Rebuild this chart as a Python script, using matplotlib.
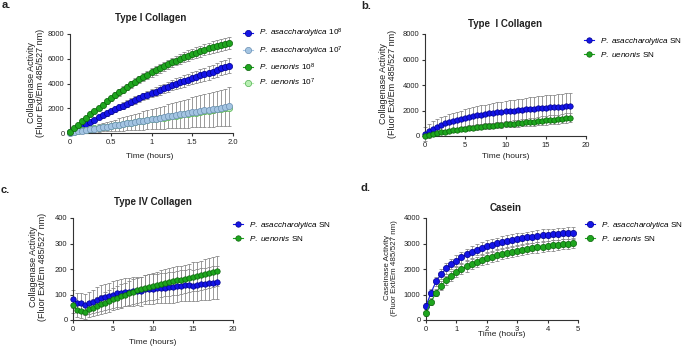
import matplotlib
matplotlib.use("Agg")
import matplotlib.pyplot as plt

# Arial-like font, italics for species names via mathtext
plt.rcParams['font.family'] = 'Liberation Sans'
plt.rcParams['mathtext.fontset'] = 'custom'
plt.rcParams['mathtext.rm'] = 'Liberation Sans'
plt.rcParams['mathtext.it'] = 'Liberation Sans:italic'
plt.rcParams['mathtext.bf'] = 'Liberation Sans:bold'

W, H = 685, 347

# ---- panel a: type I collagen, whole cells (time in hours) ----
time_a = [0, 0.05, 0.1, 0.15, 0.2, 0.25, 0.3, 0.35, 0.4, 0.45,
          0.5, 0.55, 0.6, 0.65, 0.7, 0.75, 0.8, 0.85, 0.9, 0.95,
          1.0, 1.05, 1.1, 1.15, 1.2, 1.25, 1.3, 1.35, 1.4, 1.45,
          1.5, 1.55, 1.6, 1.65, 1.7, 1.75, 1.8, 1.85, 1.9, 1.95]
pa_1e8 = [50, 210, 380, 560, 740, 920, 1090, 1260, 1430, 1590,
          1750, 1910, 2070, 2220, 2370, 2520, 2660, 2810, 2950, 3090,
          3220, 3350, 3480, 3610, 3730, 3860, 3980, 4100, 4210, 4320,
          4430, 4540, 4650, 4750, 4860, 4960, 5120, 5230, 5340, 5440]
pa_1e8_err = [30, 50, 70, 90, 110, 125, 140, 155, 170, 185,
              200, 215, 230, 245, 260, 275, 290, 300, 315, 330,
              345, 360, 375, 390, 400, 415, 430, 445, 460, 470,
              485, 500, 515, 530, 540, 555, 570, 580, 590, 600]
pa_1e7 = [20, 80, 130, 185, 240, 290, 350, 400, 460, 510,
          570, 620, 680, 730, 790, 840, 900, 950, 1010, 1060,
          1120, 1170, 1230, 1280, 1340, 1390, 1450, 1500, 1560, 1610,
          1670, 1720, 1770, 1820, 1870, 1920, 1970, 2020, 2080, 2150]
pa_1e7_err = [15, 60, 95, 135, 175, 215, 255, 295, 335, 375,
              415, 455, 495, 535, 575, 615, 655, 695, 735, 775,
              815, 855, 895, 935, 975, 1015, 1055, 1095, 1135, 1175,
              1215, 1255, 1290, 1325, 1360, 1395, 1430, 1465, 1500, 1550]
pu_1e8 = [100, 380, 680, 960, 1240, 1510, 1780, 2040, 2300, 2560,
          2810, 3050, 3280, 3500, 3720, 3930, 4130, 4330, 4520, 4710,
          4890, 5060, 5230, 5390, 5550, 5700, 5850, 5990, 6120, 6250,
          6380, 6500, 6620, 6730, 6840, 6940, 7040, 7130, 7220, 7300]
pu_1e8_err = [40, 60, 80, 100, 120, 140, 160, 175, 190, 205,
              220, 235, 250, 260, 270, 280, 290, 300, 310, 320,
              330, 340, 350, 360, 370, 380, 390, 400, 410, 420,
              430, 440, 450, 455, 460, 465, 470, 475, 480, 480]
pu_1e7 = [100, 110, 160, 210, 265, 315, 370, 420, 475, 525,
          580, 630, 685, 735, 790, 840, 895, 945, 1000, 1050,
          1100, 1150, 1200, 1250, 1300, 1350, 1400, 1450, 1500, 1550,
          1600, 1650, 1700, 1750, 1800, 1850, 1900, 1950, 2000, 2050]
pu_1e7_err = [20, 25, 30, 35, 40, 45, 50, 55, 60, 65,
              70, 75, 80, 85, 90, 95, 100, 105, 110, 115,
              120, 125, 130, 135, 140, 145, 150, 155, 160, 165,
              170, 175, 180, 185, 190, 195, 200, 205, 210, 215]

# ---- panels b and c: supernatants (time in hours) ----
time_b = [0, 0.5, 1, 1.5, 2, 2.5, 3, 3.5, 4, 4.5, 5, 5.5, 6, 6.5, 7, 7.5,
          8, 8.5, 9, 9.5, 10, 10.5, 11, 11.5, 12, 12.5, 13, 13.5, 14, 14.5,
          15, 15.5, 16, 16.5, 17, 17.5, 18]
col1_pa = [150, 380, 570, 730, 870, 990, 1100, 1190, 1280, 1360, 1440, 1510,
           1570, 1630, 1680, 1730, 1770, 1810, 1850, 1890, 1930, 1960, 1990,
           2020, 2050, 2080, 2110, 2130, 2160, 2190, 2220, 2240, 2260, 2290,
           2310, 2340, 2380]
col1_pa_err = [550, 560, 570, 580, 590, 600, 610, 620, 630, 640, 660, 675,
               690, 705, 720, 735, 750, 765, 780, 800, 820, 840, 860, 875,
               890, 905, 920, 930, 940, 950, 960, 970, 980, 985, 990, 995, 1000]
col1_pu = [20, 100, 170, 230, 290, 350, 400, 450, 500, 530, 560, 600, 640,
           680, 720, 750, 790, 820, 860, 890, 920, 950, 980, 1010, 1040, 1070,
           1100, 1130, 1160, 1190, 1230, 1260, 1290, 1320, 1360, 1400, 1440]
col1_pu_err = [50, 60, 70, 80, 90, 100, 110, 120, 130, 140, 150, 160, 170,
               180, 190, 200, 210, 220, 230, 240, 250, 260, 270, 280, 290, 300,
               310, 320, 330, 340, 350, 355, 360, 365, 370, 375, 380]

time_c = time_b
col4_pa = [82, 68, 66, 60, 66, 72, 80, 86, 90, 94, 100, 104, 106, 108, 110,
           112, 114, 113, 120, 122, 122, 124, 126, 126, 128, 128, 132, 134,
           136, 137, 135, 138, 140, 142, 144, 146, 148]
col4_pa_err = [35, 38, 40, 42, 44, 46, 48, 50, 50, 52, 52, 54, 54, 55, 55,
               56, 56, 57, 57, 58, 58, 58, 59, 59, 60, 60, 60, 61, 61, 62,
               62, 62, 63, 63, 64, 64, 65]
col4_pu = [58, 40, 36, 33, 42, 48, 55, 62, 68, 75, 83, 88, 95, 100, 106,
           110, 116, 120, 124, 128, 132, 136, 142, 146, 148, 152, 155, 158,
           160, 164, 170, 172, 175, 180, 184, 188, 192]
col4_pu_err = [30, 30, 30, 30, 32, 34, 36, 38, 40, 42, 44, 45, 46, 47, 48,
               49, 50, 50, 51, 51, 52, 52, 53, 53, 54, 54, 55, 55, 56, 56,
               57, 57, 57, 58, 58, 58, 58]

# ---- panel d: casein (10 min reads, in hours) ----
time_d = [0, 0.167, 0.333, 0.5, 0.667, 0.833, 1.0, 1.167, 1.333, 1.5,
          1.667, 1.833, 2.0, 2.167, 2.333, 2.5, 2.667, 2.833, 3.0, 3.167,
          3.333, 3.5, 3.667, 3.833, 4.0, 4.167, 4.333, 4.5, 4.667, 4.833]
cas_pa = [550, 1075, 1520, 1800, 2020, 2200, 2330, 2465, 2570, 2675,
          2755, 2835, 2900, 2950, 3005, 3055, 3095, 3135, 3175, 3200,
          3240, 3265, 3290, 3320, 3330, 3355, 3370, 3395, 3410, 3425]
cas_pa_err = [120, 150, 170, 190, 200, 210, 215, 220, 225, 225,
              225, 230, 230, 230, 230, 230, 230, 230, 230, 230,
              230, 230, 230, 230, 230, 230, 230, 230, 230, 230]
cas_pu = [260, 720, 1075, 1350, 1560, 1730, 1875, 1995, 2100, 2190,
          2270, 2350, 2415, 2480, 2530, 2585, 2635, 2675, 2715, 2755,
          2795, 2820, 2845, 2870, 2900, 2925, 2940, 2965, 2990, 3005]
cas_pu_err = [100, 130, 150, 170, 180, 190, 195, 200, 200, 200,
              200, 200, 200, 200, 200, 200, 200, 200, 200, 200,
              200, 200, 200, 200, 200, 200, 200, 200, 200, 200]

BLUE, BLUE_E = '#1414e6', '#00008c'
GREEN, GREEN_E = '#1ea51e', '#0b640b'
LBLUE, LBLUE_E = '#a3c4e2', '#6b8fb2'
LGREEN, LGREEN_E = '#b8efb2', '#52b052'
ERR = '#8a8a8a'
INK = '#222222'

fig = plt.figure(figsize=(W / 100, H / 100), dpi=100)


def fpos(x, y):
    return x / W, 1 - y / H


def panel(left, top, right, bottom, xmax, xstep, ymax, ystep):
    ax = fig.add_axes([left / W, 1 - bottom / H, (right - left) / W, (bottom - top) / H])
    ax.set_xlim(0, xmax)
    ax.set_ylim(0, ymax)
    ax.set_xticks([i * xstep for i in range(int(round(xmax / xstep)) + 1)])
    ax.set_yticks([i * ystep for i in range(int(round(ymax / ystep)) + 1)])
    for s in ('top', 'right'):
        ax.spines[s].set_visible(False)
    for s in ('left', 'bottom'):
        ax.spines[s].set_color('#333333')
        ax.spines[s].set_linewidth(0.8)
    ax.tick_params(direction='out', length=2.5, width=0.8, labelsize=5.5,
                   pad=1.5, color='#333333', labelcolor=INK)
    ax.patch.set_alpha(0)
    return ax


def series(ax, t, y, err, face, edge, label, ms, z=3):
    ax.errorbar(t, y, yerr=err, fmt='none', ecolor=ERR, elinewidth=0.6,
                capsize=1.7, capthick=0.6, zorder=2, clip_on=False)
    ax.plot(t, y, '-o', color=face, mfc=face, mec=edge, mew=0.5, ms=ms,
            lw=0.8, label=label, zorder=z, clip_on=False)


def legend(ax, x, y, spacing, order=None):
    h, l = ax.get_legend_handles_labels()
    if order:
        h = [h[i] for i in order]
        l = [l[i] for i in order]
    ax.legend(h, l, loc='upper left', bbox_to_anchor=fpos(x, y),
              bbox_transform=fig.transFigure, frameon=False, fontsize=5.9,
              borderpad=0, borderaxespad=0, handlelength=1.2,
              handletextpad=0.75, labelspacing=spacing)


def texts(title, tx, ty, xl, xlx, xly, yl, ylx, yly, ysize):
    fig.text(*fpos(tx, ty), title, ha='center', va='center', fontsize=7,
             fontweight='bold', color=INK)
    fig.text(*fpos(xlx, xly), xl, ha='center', va='center', fontsize=6,
             color=INK)
    fig.text(*fpos(ylx, yly), yl, ha='center', va='center', fontsize=ysize,
             rotation=90, linespacing=1.05, color=INK)


ylab = 'Collagenase Activity\n(Fluor Ext/Em 485/527 nm)'
pa_name = r'$\it{P.\ asaccharolytica}$'
pu_name = r'$\it{P.\ uenonis}$'

# a
ax = panel(70, 34, 233, 133, 2.0, 0.5, 8000, 2000)
ax.set_xticklabels(['0', '0.5', '1', '1.5', '2.0'])
series(ax, time_a, pa_1e8, pa_1e8_err, BLUE, BLUE_E, pa_name + r' 10$^{8}$', 4.5, 3)
series(ax, time_a, pu_1e7, pu_1e7_err, LGREEN, LGREEN_E, pu_name + r' 10$^{7}$', 4.5, 3)
series(ax, time_a, pa_1e7, pa_1e7_err, LBLUE, LBLUE_E, pa_name + r' 10$^{7}$', 4.5, 4)
series(ax, time_a, pu_1e8, pu_1e8_err, GREEN, GREEN_E, pu_name + r' 10$^{8}$', 4.5, 5)
legend(ax, 243, 27, 0.48, order=[0, 2, 3, 1])
texts('Type I Collagen', 151, 18, 'Time (hours)', 150, 157, ylab, 36, 83, 6.5)

# b
ax = panel(425, 34, 586, 136, 20, 5, 8000, 2000)
series(ax, time_b, col1_pa, col1_pa_err, BLUE, BLUE_E, pa_name + ' SN', 3.9)
series(ax, time_b, col1_pu, col1_pu_err, GREEN, GREEN_E, pu_name + ' SN', 3.9)
legend(ax, 584, 36, 0.32)
texts('Type  I Collagen', 505, 24, 'Time (hours)', 506, 157, ylab, 388, 84, 6.5)

# c
ax = panel(73, 218, 233, 320, 20, 5, 400, 100)
series(ax, time_c, col4_pa, col4_pa_err, BLUE, BLUE_E, pa_name + ' SN', 3.9)
series(ax, time_c, col4_pu, col4_pu_err, GREEN, GREEN_E, pu_name + ' SN', 3.9)
legend(ax, 233, 220, 0.32)
texts('Type IV Collagen', 153, 202, 'Time (hours)', 153, 342, ylab, 38, 267, 6.5)

# d
ax = panel(426, 218, 578, 320, 5, 1, 4000, 1000)
series(ax, time_d, cas_pa, cas_pa_err, BLUE, BLUE_E, pa_name + ' SN', 4.5)
series(ax, time_d, cas_pu, cas_pu_err, GREEN, GREEN_E, pu_name + ' SN', 4.5)
legend(ax, 585, 220, 0.32)
texts('Casein', 506, 208, 'Time (hours)', 502, 335,
      'Caseinase Activity\n(Fluor Ext/Em 485/527 nm)', 391, 268, 5.8)

# panel letters
for letter, x, y in [('a.', 2, 5), ('b.', 361, 6), ('c.', 1, 190), ('d.', 361, 188)]:
    fig.text(*fpos(x, y), letter, ha='left', va='center', fontsize=8,
             fontweight='bold', color=INK)

fig.savefig('out.png', dpi=100)
